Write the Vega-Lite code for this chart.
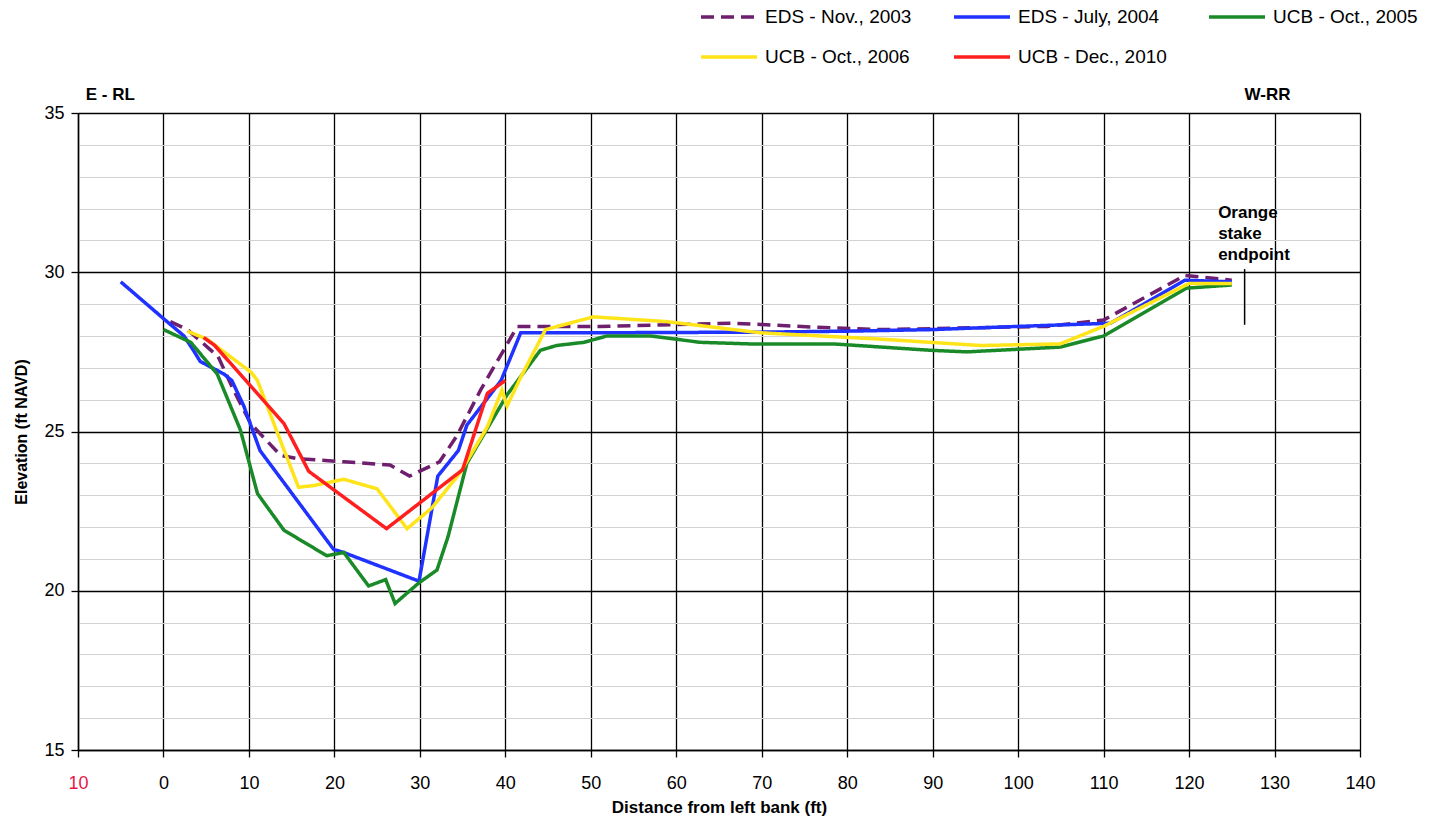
{
  "$schema": "https://vega.github.io/schema/vega-lite/v6.json",
  "width": 1282,
  "height": 637,
  "autosize": "none",
  "padding": {"left": 78, "top": 113, "right": 82, "bottom": 73},
  "background": "white",
  "config": {"font": "Liberation Sans", "view": {"stroke": null}},
  "resolve": {"axis": {"y": "independent"}},
  "datasets": {
    "profiles": [
      {"survey": "EDS - Nov., 2003", "distance": 0.8, "elevation": 28.45},
      {"survey": "EDS - Nov., 2003", "distance": 2.8, "elevation": 28.2},
      {"survey": "EDS - Nov., 2003", "distance": 6.4, "elevation": 27.35},
      {"survey": "EDS - Nov., 2003", "distance": 8.2, "elevation": 26.3},
      {"survey": "EDS - Nov., 2003", "distance": 10.2, "elevation": 25.25},
      {"survey": "EDS - Nov., 2003", "distance": 13.7, "elevation": 24.25},
      {"survey": "EDS - Nov., 2003", "distance": 15.6, "elevation": 24.15},
      {"survey": "EDS - Nov., 2003", "distance": 21.1, "elevation": 24.05},
      {"survey": "EDS - Nov., 2003", "distance": 26.5, "elevation": 23.95},
      {"survey": "EDS - Nov., 2003", "distance": 28.8, "elevation": 23.6},
      {"survey": "EDS - Nov., 2003", "distance": 32.3, "elevation": 24.05},
      {"survey": "EDS - Nov., 2003", "distance": 34.3, "elevation": 24.85},
      {"survey": "EDS - Nov., 2003", "distance": 37.1, "elevation": 26.3},
      {"survey": "EDS - Nov., 2003", "distance": 39.8, "elevation": 27.55},
      {"survey": "EDS - Nov., 2003", "distance": 41.4, "elevation": 28.3},
      {"survey": "EDS - Nov., 2003", "distance": 51, "elevation": 28.3},
      {"survey": "EDS - Nov., 2003", "distance": 66.7, "elevation": 28.4},
      {"survey": "EDS - Nov., 2003", "distance": 78.4, "elevation": 28.25},
      {"survey": "EDS - Nov., 2003", "distance": 83.9, "elevation": 28.2},
      {"survey": "EDS - Nov., 2003", "distance": 103.4, "elevation": 28.3},
      {"survey": "EDS - Nov., 2003", "distance": 110, "elevation": 28.5},
      {"survey": "EDS - Nov., 2003", "distance": 119.5, "elevation": 29.9},
      {"survey": "EDS - Nov., 2003", "distance": 125, "elevation": 29.75},

      {"survey": "EDS - July, 2004", "distance": -5, "elevation": 29.7},
      {"survey": "EDS - July, 2004", "distance": 0.2, "elevation": 28.5},
      {"survey": "EDS - July, 2004", "distance": 2.4, "elevation": 28.0},
      {"survey": "EDS - July, 2004", "distance": 3.5, "elevation": 27.55},
      {"survey": "EDS - July, 2004", "distance": 4.3, "elevation": 27.2},
      {"survey": "EDS - July, 2004", "distance": 7.1, "elevation": 26.8},
      {"survey": "EDS - July, 2004", "distance": 8.0, "elevation": 26.6},
      {"survey": "EDS - July, 2004", "distance": 9.4, "elevation": 25.8},
      {"survey": "EDS - July, 2004", "distance": 11.3, "elevation": 24.4},
      {"survey": "EDS - July, 2004", "distance": 19.9, "elevation": 21.3},
      {"survey": "EDS - July, 2004", "distance": 21.1, "elevation": 21.2},
      {"survey": "EDS - July, 2004", "distance": 29.9, "elevation": 20.3},
      {"survey": "EDS - July, 2004", "distance": 32.1, "elevation": 23.6},
      {"survey": "EDS - July, 2004", "distance": 34.5, "elevation": 24.4},
      {"survey": "EDS - July, 2004", "distance": 35.5, "elevation": 25.2},
      {"survey": "EDS - July, 2004", "distance": 39.5, "elevation": 26.6},
      {"survey": "EDS - July, 2004", "distance": 41.8, "elevation": 28.1},
      {"survey": "EDS - July, 2004", "distance": 51, "elevation": 28.1},
      {"survey": "EDS - July, 2004", "distance": 70, "elevation": 28.12},
      {"survey": "EDS - July, 2004", "distance": 80, "elevation": 28.15},
      {"survey": "EDS - July, 2004", "distance": 90, "elevation": 28.2},
      {"survey": "EDS - July, 2004", "distance": 100, "elevation": 28.3},
      {"survey": "EDS - July, 2004", "distance": 110.8, "elevation": 28.4},
      {"survey": "EDS - July, 2004", "distance": 119.5, "elevation": 29.75},
      {"survey": "EDS - July, 2004", "distance": 125, "elevation": 29.7},

      {"survey": "UCB - Oct., 2005", "distance": 0, "elevation": 28.2},
      {"survey": "UCB - Oct., 2005", "distance": 3.2, "elevation": 27.8},
      {"survey": "UCB - Oct., 2005", "distance": 6.3, "elevation": 26.8},
      {"survey": "UCB - Oct., 2005", "distance": 9.0, "elevation": 25.05},
      {"survey": "UCB - Oct., 2005", "distance": 11.0, "elevation": 23.05},
      {"survey": "UCB - Oct., 2005", "distance": 14.1, "elevation": 21.9},
      {"survey": "UCB - Oct., 2005", "distance": 19.1, "elevation": 21.1},
      {"survey": "UCB - Oct., 2005", "distance": 21.1, "elevation": 21.2},
      {"survey": "UCB - Oct., 2005", "distance": 24.0, "elevation": 20.15},
      {"survey": "UCB - Oct., 2005", "distance": 26.0, "elevation": 20.35},
      {"survey": "UCB - Oct., 2005", "distance": 27.1, "elevation": 19.6},
      {"survey": "UCB - Oct., 2005", "distance": 29.9, "elevation": 20.25},
      {"survey": "UCB - Oct., 2005", "distance": 32.0, "elevation": 20.65},
      {"survey": "UCB - Oct., 2005", "distance": 33.3, "elevation": 21.7},
      {"survey": "UCB - Oct., 2005", "distance": 35.5, "elevation": 24.0},
      {"survey": "UCB - Oct., 2005", "distance": 40.2, "elevation": 26.15},
      {"survey": "UCB - Oct., 2005", "distance": 44.1, "elevation": 27.55},
      {"survey": "UCB - Oct., 2005", "distance": 46, "elevation": 27.7},
      {"survey": "UCB - Oct., 2005", "distance": 49.2, "elevation": 27.8},
      {"survey": "UCB - Oct., 2005", "distance": 51.9, "elevation": 28.0},
      {"survey": "UCB - Oct., 2005", "distance": 57, "elevation": 28.0},
      {"survey": "UCB - Oct., 2005", "distance": 62.8, "elevation": 27.8},
      {"survey": "UCB - Oct., 2005", "distance": 68.6, "elevation": 27.75},
      {"survey": "UCB - Oct., 2005", "distance": 78.4, "elevation": 27.75},
      {"survey": "UCB - Oct., 2005", "distance": 89.7, "elevation": 27.55},
      {"survey": "UCB - Oct., 2005", "distance": 94, "elevation": 27.5},
      {"survey": "UCB - Oct., 2005", "distance": 104.9, "elevation": 27.65},
      {"survey": "UCB - Oct., 2005", "distance": 110, "elevation": 28.0},
      {"survey": "UCB - Oct., 2005", "distance": 119.7, "elevation": 29.5},
      {"survey": "UCB - Oct., 2005", "distance": 125, "elevation": 29.6},

      {"survey": "UCB - Oct., 2006", "distance": 2.8, "elevation": 28.15},
      {"survey": "UCB - Oct., 2006", "distance": 5.1, "elevation": 27.9},
      {"survey": "UCB - Oct., 2006", "distance": 10.3, "elevation": 26.85},
      {"survey": "UCB - Oct., 2006", "distance": 11.0, "elevation": 26.6},
      {"survey": "UCB - Oct., 2006", "distance": 13.7, "elevation": 24.7},
      {"survey": "UCB - Oct., 2006", "distance": 15.8, "elevation": 23.25},
      {"survey": "UCB - Oct., 2006", "distance": 17.5, "elevation": 23.3},
      {"survey": "UCB - Oct., 2006", "distance": 21.1, "elevation": 23.5},
      {"survey": "UCB - Oct., 2006", "distance": 25.0, "elevation": 23.2},
      {"survey": "UCB - Oct., 2006", "distance": 28.5, "elevation": 21.95},
      {"survey": "UCB - Oct., 2006", "distance": 31.4, "elevation": 22.6},
      {"survey": "UCB - Oct., 2006", "distance": 34.7, "elevation": 23.7},
      {"survey": "UCB - Oct., 2006", "distance": 37.9, "elevation": 25.15},
      {"survey": "UCB - Oct., 2006", "distance": 39.6, "elevation": 26.3},
      {"survey": "UCB - Oct., 2006", "distance": 40.2, "elevation": 25.8},
      {"survey": "UCB - Oct., 2006", "distance": 41.8, "elevation": 26.7},
      {"survey": "UCB - Oct., 2006", "distance": 44.7, "elevation": 28.2},
      {"survey": "UCB - Oct., 2006", "distance": 50.3, "elevation": 28.6},
      {"survey": "UCB - Oct., 2006", "distance": 58.9, "elevation": 28.45},
      {"survey": "UCB - Oct., 2006", "distance": 66.7, "elevation": 28.2},
      {"survey": "UCB - Oct., 2006", "distance": 69.8, "elevation": 28.1},
      {"survey": "UCB - Oct., 2006", "distance": 83.9, "elevation": 27.9},
      {"survey": "UCB - Oct., 2006", "distance": 89.7, "elevation": 27.8},
      {"survey": "UCB - Oct., 2006", "distance": 95.6, "elevation": 27.7},
      {"survey": "UCB - Oct., 2006", "distance": 104.9, "elevation": 27.75},
      {"survey": "UCB - Oct., 2006", "distance": 110, "elevation": 28.3},
      {"survey": "UCB - Oct., 2006", "distance": 120, "elevation": 29.65},
      {"survey": "UCB - Oct., 2006", "distance": 125, "elevation": 29.65},

      {"survey": "UCB - Dec., 2010", "distance": 4.7, "elevation": 27.95},
      {"survey": "UCB - Dec., 2010", "distance": 6.0, "elevation": 27.7},
      {"survey": "UCB - Dec., 2010", "distance": 14.1, "elevation": 25.25},
      {"survey": "UCB - Dec., 2010", "distance": 17.0, "elevation": 23.75},
      {"survey": "UCB - Dec., 2010", "distance": 26.1, "elevation": 21.95},
      {"survey": "UCB - Dec., 2010", "distance": 35.0, "elevation": 23.8},
      {"survey": "UCB - Dec., 2010", "distance": 37.9, "elevation": 26.2},
      {"survey": "UCB - Dec., 2010", "distance": 40, "elevation": 26.6}
    ],
    "labels": [
      {"label": "E - RL", "distance": -9.1, "elevation": 35.58},
      {"label": "W-RR", "distance": 126.5, "elevation": 35.58}
    ],
    "note": [
      {"label": "Orange\nstake\nendpoint", "distance": 123.4, "elevation": 32.1}
    ],
    "stake": [
      {"distance": 126.5, "low": 28.35, "high": 30.1}
    ]
  },
  "layer": [
    {
      "data": {"name": "stake"},
      "mark": {"type": "rule", "color": "black", "strokeWidth": 1.5},
      "encoding": {
        "x": {"field": "distance", "type": "quantitative", "scale": {"domain": [-10, 140], "nice": false, "zero": false}},
        "y": {
          "field": "low", "type": "quantitative",
          "scale": {"domain": [15, 35], "nice": false, "zero": false},
          "axis": {
            "orient": "left",
            "values": [16, 17, 18, 19, 21, 22, 23, 24, 26, 27, 28, 29, 31, 32, 33, 34],
            "title": null, "labels": false, "ticks": false, "domain": false,
            "grid": true, "gridColor": "#d2d2d2", "gridWidth": 1, "gridOpacity": 1
          }
        },
        "y2": {"field": "high"}
      }
    },
    {
      "data": {"name": "profiles"},
      "mark": {"type": "line", "strokeWidth": 3.5},
      "encoding": {
        "x": {
          "field": "distance", "type": "quantitative",
          "scale": {"domain": [-10, 140], "nice": false, "zero": false},
          "axis": {
            "values": [-10, 0, 10, 20, 30, 40, 50, 60, 70, 80, 90, 100, 110, 120, 130, 140],
            "title": "Distance from left bank (ft)",
            "titleFontSize": 17, "titleFontWeight": "bold", "titleColor": "black", "titlePadding": 7,
            "grid": true, "gridColor": "black", "gridWidth": 1.3, "gridOpacity": 1,
            "domainColor": "black", "domainWidth": 1.5,
            "tickColor": "black", "tickSize": 7, "tickWidth": 1.3,
            "labelFontSize": 18, "labelPadding": 17, "labelFlush": false, "labelOverlap": false,
            "labelColor": {"condition": {"test": "datum.value < 0", "value": "#e8174a"}, "value": "black"},
            "labelExpr": "datum.value < 0 ? '10' : datum.label"
          }
        },
        "y": {
          "field": "elevation", "type": "quantitative",
          "scale": {"domain": [15, 35], "nice": false, "zero": false},
          "axis": {
            "orient": "left",
            "values": [15, 20, 25, 30, 35],
            "title": "Elevation (ft NAVD)",
            "titleFontSize": 16, "titleFontWeight": "bold", "titleColor": "black", "titlePadding": 14,
            "grid": true, "gridColor": "black", "gridWidth": 1.3, "gridOpacity": 1,
            "domainColor": "black", "domainWidth": 1.5,
            "tickColor": "black", "tickSize": 7, "tickWidth": 1.3,
            "labelFontSize": 18, "labelPadding": 7, "labelColor": "black", "labelOverlap": false
          }
        },
        "color": {
          "field": "survey", "type": "nominal",
          "scale": {
            "domain": ["EDS - Nov., 2003", "EDS - July, 2004", "UCB - Oct., 2005", "UCB - Oct., 2006", "UCB - Dec., 2010"],
            "range": ["#6e1f6e", "#1f32ff", "#1a8a28", "#ffe419", "#ff1f1f"]
          },
          "legend": {
            "title": null, "orient": "none", "legendX": 621, "legendY": -126, "direction": "horizontal",
            "columns": 3, "symbolType": "stroke", "symbolSize": 3136, "symbolStrokeWidth": 3.5,
            "labelFontSize": 19, "labelOffset": 6, "labelColor": "black", "labelLimit": 400,
            "columnPadding": 35, "rowPadding": -16, "padding": 0
          }
        },
        "strokeDash": {
          "field": "survey", "type": "nominal",
          "scale": {
            "domain": ["EDS - Nov., 2003", "EDS - July, 2004", "UCB - Oct., 2005", "UCB - Oct., 2006", "UCB - Dec., 2010"],
            "range": [[13, 7], [1, 0], [1, 0], [1, 0], [1, 0]]
          },
          "legend": {
            "title": null, "orient": "none", "legendX": 621, "legendY": -126, "direction": "horizontal",
            "columns": 3, "symbolType": "stroke", "symbolSize": 3136, "symbolStrokeWidth": 3.5,
            "labelFontSize": 19, "labelOffset": 6, "labelColor": "black", "labelLimit": 400,
            "columnPadding": 35, "rowPadding": -16, "padding": 0
          }
        }
      }
    },
    {
      "data": {"name": "labels"},
      "mark": {"type": "text", "align": "left", "baseline": "middle", "fontSize": 17, "fontWeight": "bold", "color": "black"},
      "encoding": {
        "x": {"field": "distance", "type": "quantitative", "scale": {"domain": [-10, 140], "nice": false, "zero": false}},
        "y": {"field": "elevation", "type": "quantitative", "scale": {"domain": [15, 35], "nice": false, "zero": false}, "axis": null},
        "text": {"field": "label"}
      }
    },
    {
      "data": {"name": "note"},
      "mark": {"type": "text", "align": "left", "baseline": "top", "fontSize": 17, "fontWeight": "bold", "color": "black", "lineBreak": "\n", "lineHeight": 21},
      "encoding": {
        "x": {"field": "distance", "type": "quantitative", "scale": {"domain": [-10, 140], "nice": false, "zero": false}},
        "y": {"field": "elevation", "type": "quantitative", "scale": {"domain": [15, 35], "nice": false, "zero": false}, "axis": null},
        "text": {"field": "label"}
      }
    }
  ]
}
